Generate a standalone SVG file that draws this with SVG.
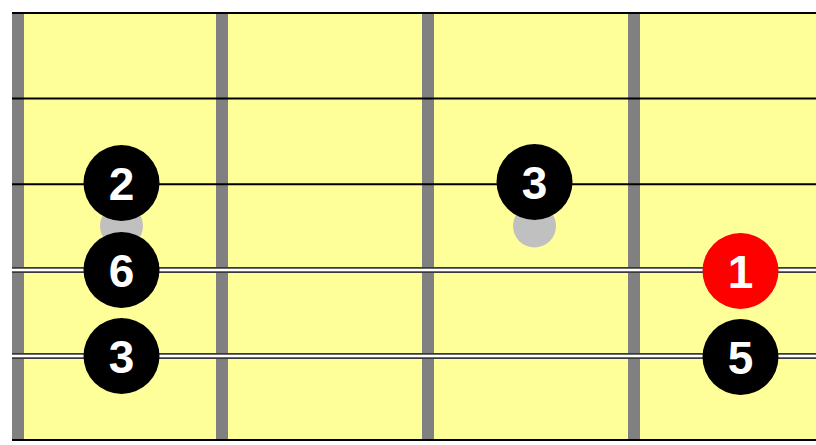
<svg xmlns="http://www.w3.org/2000/svg" width="816" height="445" viewBox="0 0 816 445">
<style>
.fret{fill:#808080}
.plain{stroke:#000;stroke-width:2}
.woundo{stroke:#3a3a3a;stroke-width:6}
.woundi{stroke:#fff;stroke-width:2.5}
.note{fill:#000}
.root{fill:#f00}
.ghost{fill:#c0c0c0}
.lbl{fill:#fff;font-family:"Liberation Sans",Arial,sans-serif;font-weight:bold;font-size:46px;text-anchor:middle}
</style>
<rect x="0" y="0" width="816" height="445" fill="#fff"/>
<g id="board">
<rect x="12" y="13" width="804" height="427" fill="#ffff99"/>
<rect class="fret" x="12" y="13" width="12" height="427"/>
<rect class="fret" x="216" y="13" width="12" height="427"/>
<rect class="fret" x="422" y="13" width="12" height="427"/>
<rect class="fret" x="628" y="13" width="12" height="427"/>
</g>
<g id="strings">
<line class="plain" x1="12" y1="13" x2="816" y2="13"/>
<line class="plain" x1="12" y1="98.6" x2="816" y2="98.6"/>
<line class="plain" x1="12" y1="184.2" x2="816" y2="184.2"/>
<line class="woundo" x1="12" y1="270" x2="816" y2="270"/>
<line class="woundi" x1="12" y1="270" x2="816" y2="270"/>
<line class="woundo" x1="12" y1="356" x2="816" y2="356"/>
<line class="woundi" x1="12" y1="356" x2="816" y2="356"/>
<line class="plain" x1="12" y1="440" x2="816" y2="440"/>
</g>
<g id="ghost1"><circle class="ghost" cx="121.5" cy="226" r="21.5"/></g>
<g id="ghost2"><circle class="ghost" cx="534.5" cy="226" r="21.5"/></g>
<g id="n2"><circle class="note" cx="121.5" cy="183" r="38"/><text class="lbl" x="121.5" y="199.5">2</text></g>
<g id="n6"><circle class="note" cx="121.5" cy="270" r="38"/><text class="lbl" x="121.5" y="286.5">6</text></g>
<g id="n3a"><circle class="note" cx="121.5" cy="356" r="38"/><text class="lbl" x="121.5" y="372.5">3</text></g>
<g id="n3b"><circle class="note" cx="534.5" cy="182" r="38"/><text class="lbl" x="534.5" y="198.5">3</text></g>
<g id="n1"><circle class="root" cx="740.5" cy="271" r="38"/><text class="lbl" x="740.5" y="287.5">1</text></g>
<g id="n5"><circle class="note" cx="740.5" cy="357" r="38"/><text class="lbl" x="740.5" y="373.5">5</text></g>
</svg>
